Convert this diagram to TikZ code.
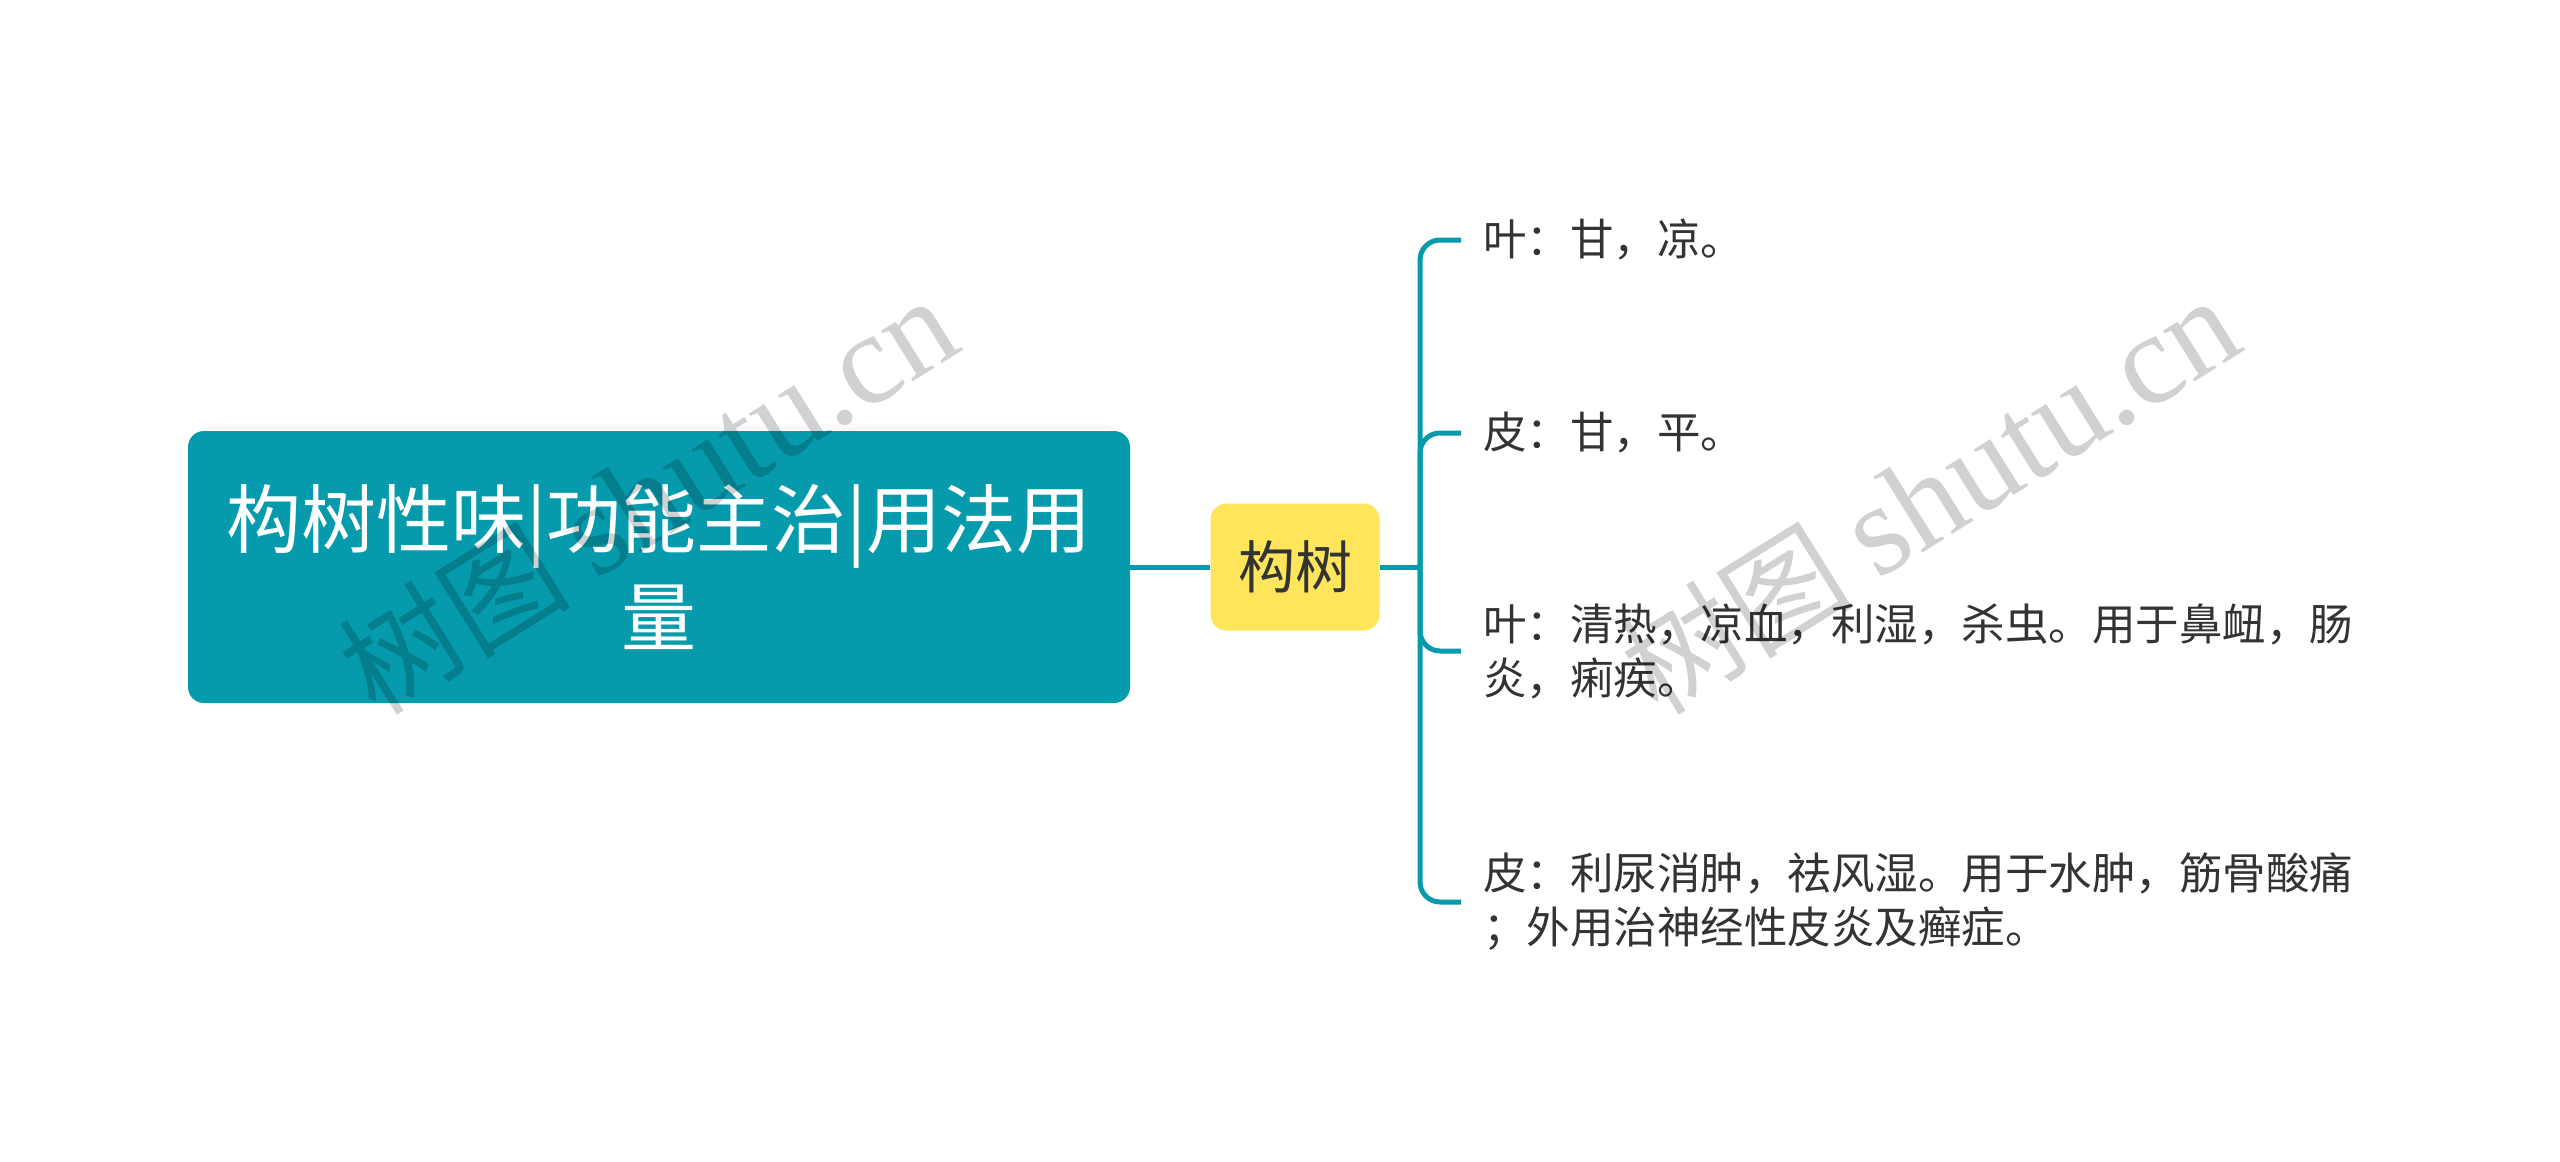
\documentclass[tikz,border=0pt]{standalone}
\usepackage{fontspec}
\setmainfont{Noto Sans CJK SC}
\newfontfamily\wmlatin{Liberation Serif}
\definecolor{tealc}{HTML}{069AAD}
\definecolor{yellowc}{HTML}{FEE55B}
\definecolor{textc}{HTML}{333333}
\tikzset{
  mainbox/.style={draw=none, fill=tealc, rounded corners=16pt, minimum width=942pt, minimum height=272pt,
    text=white, align=center, font=\fontsize{75}{98}\selectfont, inner sep=0pt},
  subbox/.style={draw=none, fill=yellowc, rounded corners=16pt, minimum width=169pt, minimum height=127pt,
    text=textc, align=center, font=\fontsize{57}{70}\selectfont, inner sep=0pt},
  leaf/.style={anchor=west, align=left, text=textc, font=\fontsize{43.5}{54}\selectfont, inner sep=0pt},
  conn/.style={draw=tealc, line width=5pt},
  branch/.style={conn, rounded corners=20pt},
  wm/.style={text=black, opacity=0.18, font=\fontsize{116}{116}\selectfont, inner sep=0pt}
}
\begin{document}
\begin{tikzpicture}[x=1pt,y=-1pt]
\useasboundingbox (0,0) rectangle (2560,1162);
\fill[white] (0,0) rectangle (2560,1162);

\node[mainbox] (root) at (659,567) {构树性味|功能主治|用法用\\量};
\node[subbox] (sub) at (1295,567) {构树};

\node[leaf] (t1) at (1483,240) {叶：甘，凉。};
\node[leaf] (t2) at (1483,433) {皮：甘，平。};
\node[leaf] (t3) at (1483,651) {叶：清热，凉血，利湿，杀虫。用于鼻衄，肠\\炎，痢疾。};
\node[leaf] (t4) at (1483,902) {皮：利尿消肿，祛风湿。用于水肿，筋骨酸痛\\；外用治神经性皮炎及癣症。};

\coordinate (J) at (1420,567);
\draw[conn] (root.east) -- (sub.west);
\draw[conn] (sub.east) -- (J);
\draw[branch] (J) |- ([xshift=-22pt]t1.west);
\draw[branch] (J) |- ([xshift=-22pt]t2.west);
\draw[branch] (J) |- ([xshift=-22pt]t3.west);
\draw[branch] (J) |- ([xshift=-22pt]t4.west);

\node[wm, rotate=32] (wm1) at (648,496) {树图 {\wmlatin\fontsize{130}{130}\selectfont shutu.cn}};
\node[wm, rotate=32] (wm2) at (1930,496) {树图 {\wmlatin\fontsize{130}{130}\selectfont shutu.cn}};
\end{tikzpicture}
\end{document}
